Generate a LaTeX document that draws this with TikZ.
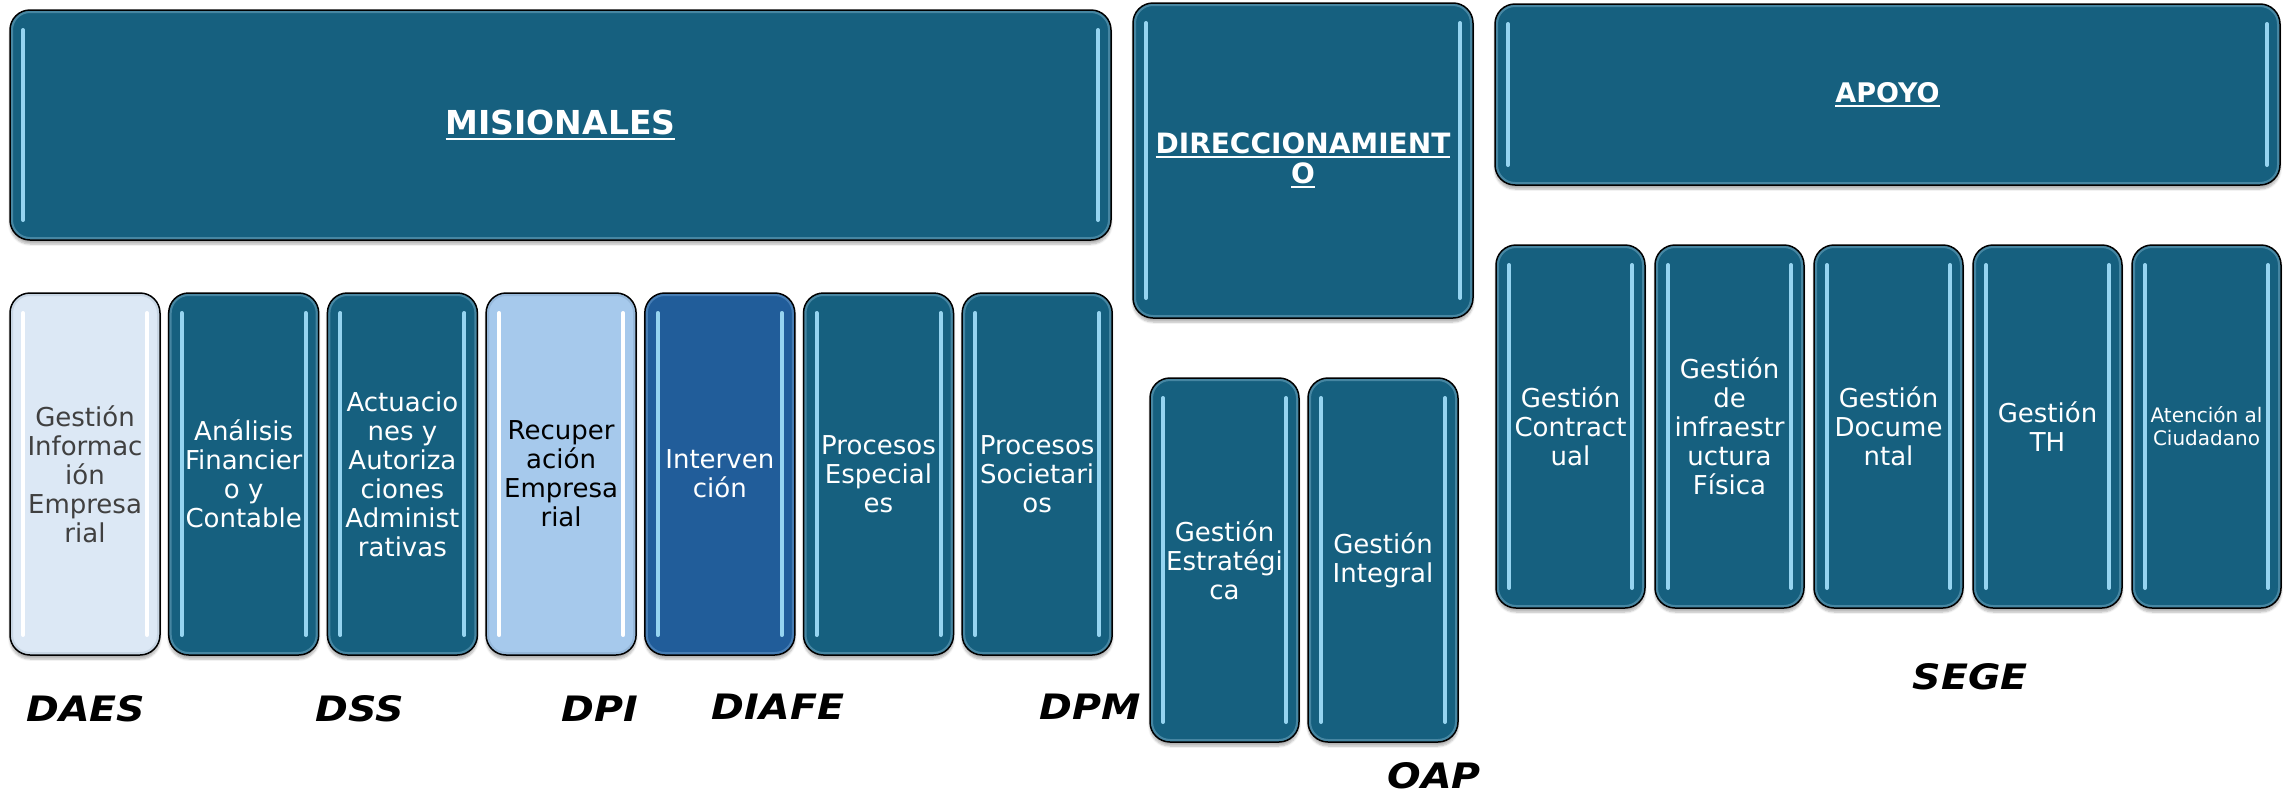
\documentclass[tikz,border=0pt]{standalone}
\usepackage{fontspec}
\setmainfont{DejaVu Sans}
\newfontfamily\labfont{DejaVu Sans}[FakeStretch=1.13]
\usetikzlibrary{shadows.blur}
\definecolor{tealA}{RGB}{22,96,127}
\definecolor{rimA}{RGB}{70,134,162}
\definecolor{hlA}{RGB}{150,212,240}
\definecolor{lightA}{RGB}{220,232,245}
\definecolor{rimL}{RGB}{200,214,228}
\definecolor{lightB}{RGB}{166,201,236}
\definecolor{rimB}{RGB}{150,184,218}
\definecolor{blueC}{RGB}{33,93,154}
\definecolor{rimC}{RGB}{70,125,180}
\definecolor{grayT}{RGB}{64,64,64}
\newsavebox\hdbox
\newcommand\hul[1]{\sbox\hdbox{#1}\rlap{\rule[-0.17em]{\wd\hdbox}{0.07em}}\usebox\hdbox}
\tikzset{
  gl/.style n args={3}{draw=black, line width=1.5pt, rounded corners=20pt, fill=#1, inner sep=0pt,
    blur shadow={shadow xshift=0pt, shadow yshift=-4pt, shadow opacity=30, shadow blur steps=6},
    path picture={
      \draw[#2, line width=6pt, rounded corners=20pt] (path picture bounding box.south west) rectangle (path picture bounding box.north east);
      \draw[#3, line width=4pt, line cap=round] ([xshift=13pt,yshift=-20pt]path picture bounding box.north west) -- ([xshift=13pt,yshift=20pt]path picture bounding box.south west);
      \draw[#3, line width=4pt, line cap=round] ([xshift=-13pt,yshift=-20pt]path picture bounding box.north east) -- ([xshift=-13pt,yshift=20pt]path picture bounding box.south east);
    }},
  dark/.style={gl={tealA}{rimA}{hlA}, text=white},
  sub/.style={minimum width=150pt, align=center, font=\fontsize{26}{29}\selectfont},
  lsub/.style={sub, minimum height=362pt},
  rsub/.style={sub, minimum height=363pt},
  osub/.style={sub, minimum height=364pt},
  lab/.style={font=\labfont\fontsize{35}{38}\selectfont\bfseries\itshape, text=black, inner sep=0pt},
}
\begin{document}
\begin{tikzpicture}[x=1pt,y=-1pt]
\useasboundingbox (0,0) rectangle (2287,793);
% headings
\node[dark, minimum width=1101pt, minimum height=230pt, font=\fontsize{33}{40}\selectfont\bfseries] (mis) at (560.5,125) {\hul{MISIONALES}};
\node[dark, minimum width=340pt, minimum height=315pt, align=center, font=\fontsize{28}{30}\selectfont\bfseries] (dir) at (1303,160.5) {\hul{DIRECCIONAMIENT}\\\hul{O}};
\node[dark, minimum width=785pt, minimum height=181pt, font=\fontsize{27}{32}\selectfont\bfseries] (apo) at (1887.5,94.5) {\hul{APOYO}};
% misionales
\node[lsub, gl={lightA}{rimL}{white}, text=grayT] (m1) at (85,474) {Gestión\\Informac\\ión\\Empresa\\rial};
\node[lsub, dark] (m2) at (243.7,474) {Análisis\\Financier\\o y\\Contable};
\node[lsub, dark] (m3) at (402.4,474) {Actuacio\\nes y\\Autoriza\\ciones\\Administ\\rativas};
\node[lsub, gl={lightB}{rimB}{white}, text=black] (m4) at (561.1,474) {Recuper\\ación\\Empresa\\rial};
\node[lsub, gl={blueC}{rimC}{hlA}, text=white] (m5) at (719.8,474) {Interven\\ción};
\node[lsub, dark] (m6) at (878.5,474) {Procesos\\Especial\\es};
\node[lsub, dark] (m7) at (1037.2,474) {Procesos\\Societari\\os};
% direccionamiento
\node[osub, dark, minimum width=149pt] (d1) at (1224.5,560) {Gestión\\Estratégi\\ca};
\node[osub, dark] (d2) at (1383,560) {Gestión\\Integral};
% apoyo
\node[rsub, dark, minimum width=149pt] (a1) at (1570.5,426.5) {Gestión\\Contract\\ual};
\node[rsub, dark, minimum width=149pt] (a2) at (1729.5,426.5) {Gestión\\de\\infraestr\\uctura\\Física};
\node[rsub, dark, minimum width=149pt] (a3) at (1888.5,426.5) {Gestión\\Docume\\ntal};
\node[rsub, dark, minimum width=149pt] (a4) at (2047.5,426.5) {Gestión\\TH};
\node[rsub, dark, minimum width=149pt, font=\fontsize{20}{23}\selectfont] (a5) at (2206.5,426.5) {Atención al\\Ciudadano};
% labels
\node[lab] (l1) at (86,709) {DAES};
\node[lab] (l2) at (360,709) {DSS};
\node[lab] (l3) at (600,709) {DPI};
\node[lab] (l4) at (778,707) {DIAFE};
\node[lab] (l5) at (1090,707) {DPM};
\node[lab] (l6) at (1434,776) {OAP};
\node[lab] (l7) at (1970,677) {SEGE};
\end{tikzpicture}
\end{document}
